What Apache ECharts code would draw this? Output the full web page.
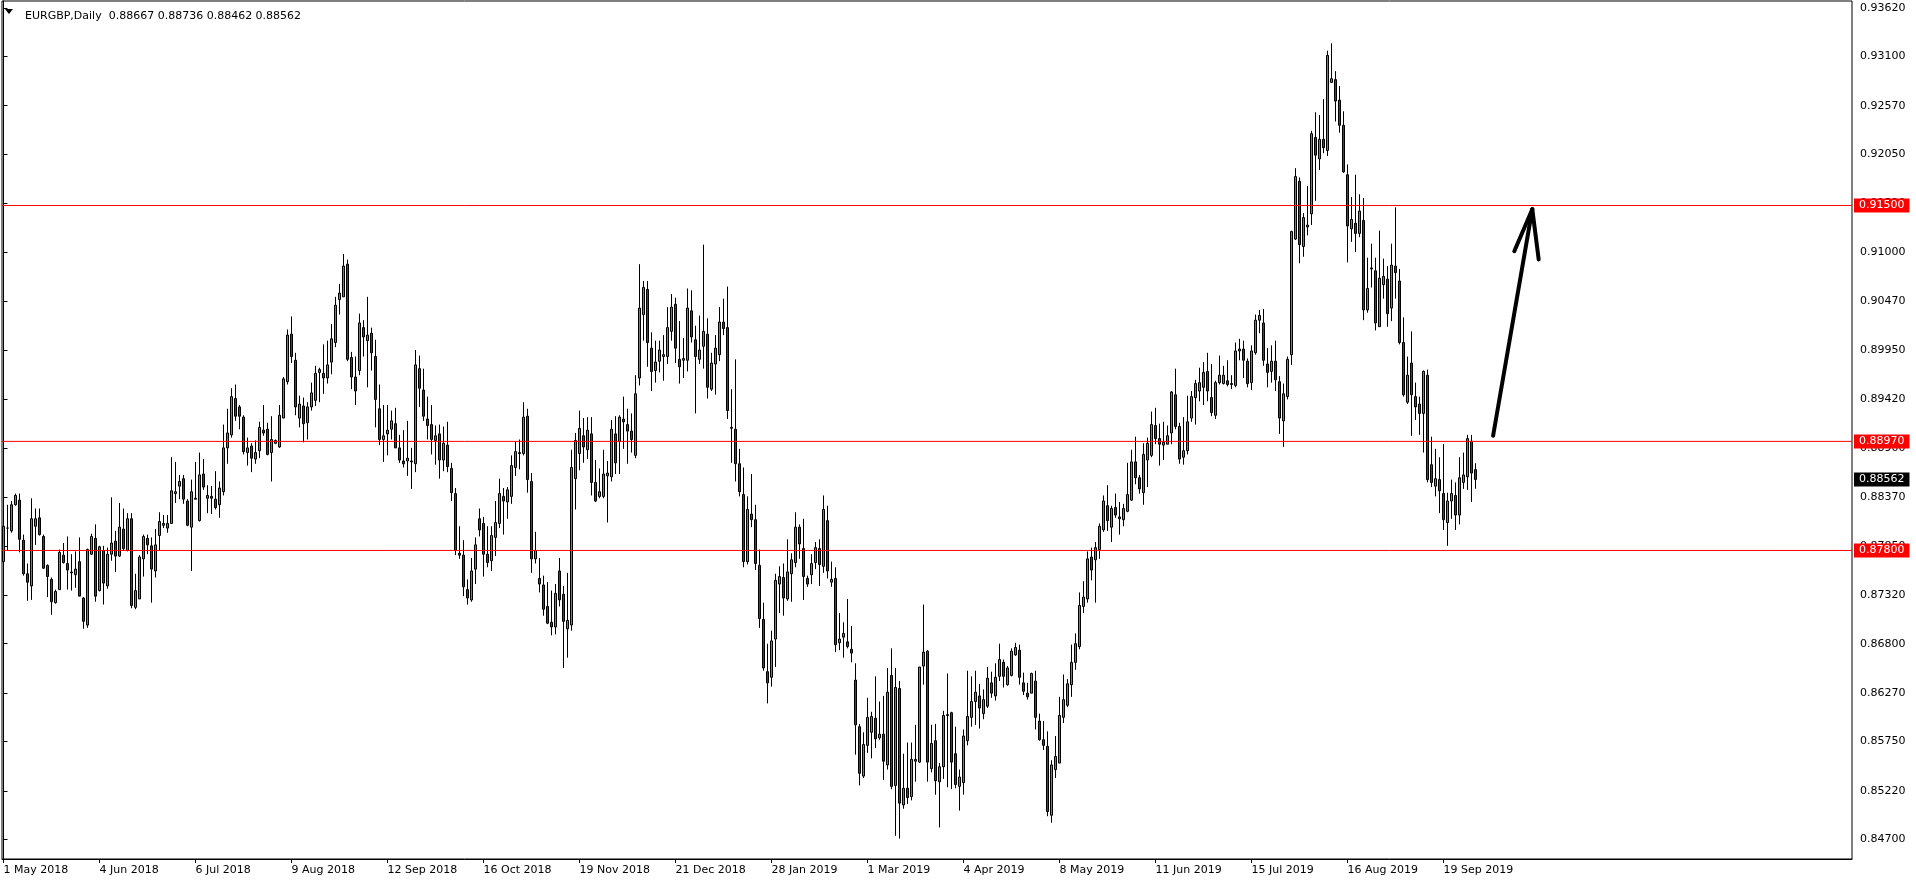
<!DOCTYPE html>
<html><head><meta charset="utf-8">
<script src="https://cdn.jsdelivr.net/npm/echarts@6/dist/echarts.min.js"></script>
<style>html,body{margin:0;padding:0;background:#fff}#c{width:1916px;height:884px}</style>
</head><body><div id="c"></div>
<script>
const symbolName = 'EURGBP,Daily';
const open = [
0.8768,0.8804,0.8801,0.8829,0.8834,0.8791,0.8755,0.8742,0.8806,0.8815,
0.8795,0.8764,0.8749,0.8724,0.8738,0.8775,0.8766,0.8757,0.8754,0.8768,
0.8729,0.8700,0.8776,0.8793,0.8737,0.8780,0.8742,0.8776,0.8790,0.8774,
0.8803,0.8780,0.8814,0.8719,0.8728,0.8771,0.8793,0.8785,0.8758,0.8796,
0.8807,0.8804,0.8809,0.8841,0.8849,0.8857,0.8833,0.8805,0.8836,0.8812,
0.8862,0.8836,0.8838,0.8835,0.8829,0.8843,0.8890,0.8904,0.8943,0.8934,
0.8923,0.8885,0.8892,0.8878,0.8887,0.8909,0.8910,0.8885,0.8895,0.8891,
0.8922,0.8961,0.9012,0.8984,0.8922,0.8935,0.8917,0.8934,0.8941,0.8971,
0.8970,0.8965,0.8982,0.9003,0.9049,0.9052,0.9087,0.8987,0.8966,0.8973,
0.9019,0.9005,0.9013,0.8988,0.8932,0.8899,0.8905,0.8910,0.8916,0.8890,
0.8876,0.8876,0.8876,0.8873,0.8975,0.8952,0.8921,0.8915,0.8898,0.8905,
0.8877,0.8893,0.8868,0.8841,0.8777,0.8775,0.8738,0.8727,0.8760,0.8814,
0.8809,0.8776,0.8769,0.8794,0.8809,0.8838,0.8832,0.8838,0.8869,0.8884,
0.8884,0.8924,0.8854,0.8771,0.8750,0.8743,0.8720,0.8703,0.8698,0.8758,
0.8733,0.8696,0.8700,0.8857,0.8884,0.8903,0.8888,0.8905,0.8853,0.8838,
0.8838,0.8860,0.8859,0.8905,0.8897,0.8921,0.8915,0.8908,0.8882,0.8965,
0.9033,0.9060,0.8997,0.8973,0.8983,0.8988,0.8988,0.9015,0.9044,0.8985,
0.8984,0.8984,0.9037,0.9006,0.8985,0.8999,0.9012,0.8953,0.8980,0.8990,
0.9025,0.9019,0.8912,0.8910,0.8873,0.8840,0.8768,0.8819,0.8813,0.8764,
0.8706,0.8650,0.8644,0.8685,0.8744,0.8751,0.8728,0.8755,0.8767,0.8805,
0.8782,0.8750,0.8754,0.8767,0.8782,0.8763,0.8812,0.8746,0.8750,0.8681,
0.8687,0.8682,0.8674,0.8641,0.8591,0.8538,0.8571,0.8585,0.8600,0.8579,
0.8583,0.8550,0.8646,0.8528,0.8632,0.8507,0.8525,0.8516,0.8554,0.8553,
0.8656,0.8672,0.8546,0.8576,0.8532,0.8548,0.8603,0.8606,0.8562,0.8527,
0.8531,0.8576,0.8601,0.8618,0.8624,0.8605,0.8613,0.8638,0.8624,0.8645,
0.8660,0.8636,0.8646,0.8668,0.8673,0.8638,0.8627,0.8627,0.8640,0.8597,
0.8577,0.8570,0.8496,0.8545,0.8552,0.8601,0.8614,0.8636,0.8660,0.8677,
0.8720,0.8728,0.8773,0.8770,0.8781,0.8802,0.8828,0.8805,0.8826,0.8816,
0.8813,0.8822,0.8834,0.8875,0.8858,0.8842,0.8877,0.8882,0.8914,0.8900,
0.8893,0.8894,0.8906,0.8947,0.8913,0.8880,0.8887,0.8922,0.8944,0.8951,
0.8955,0.8972,0.8944,0.8925,0.8960,0.8959,0.8962,0.8958,0.8957,0.8994,
0.8996,0.8983,0.8960,0.8992,0.9027,0.9024,0.8980,0.8972,0.8983,0.8961,
0.8919,0.8945,0.8990,0.9114,0.9176,0.9106,0.9127,0.9141,0.9223,0.9200,
0.9221,0.9209,0.9282,0.9285,0.9263,0.9236,0.9183,0.9125,0.9131,0.9120,
0.9134,0.9038,0.9083,0.9080,0.9020,0.9065,0.9071,0.9040,0.9085,0.9069,
0.9003,0.8939,0.8981,0.8945,0.8937,0.8927,0.8968,0.8872,0.8849,0.8856,
0.8841,0.8810,0.8833,0.8839,0.8818,0.8853,0.8859,0.8897,0.88667];
const high = [
0.8822,0.8829,0.8833,0.8841,0.8841,0.8797,0.8766,0.8836,0.8825,0.8825,
0.8797,0.8765,0.8751,0.8738,0.8781,0.8788,0.8795,0.8776,0.8779,0.8794,
0.8730,0.8782,0.8798,0.8808,0.8785,0.8785,0.8783,0.8837,0.8801,0.8831,
0.8825,0.8820,0.8820,0.8755,0.8775,0.8797,0.8797,0.8794,0.8803,0.8821,
0.8818,0.8818,0.8880,0.8875,0.8861,0.8861,0.8835,0.8856,0.8875,0.8885,
0.8878,0.8850,0.8849,0.8865,0.8854,0.8915,0.8932,0.8954,0.8958,0.8936,
0.8925,0.8901,0.8895,0.8898,0.8918,0.8936,0.8917,0.8924,0.8899,0.8936,
0.8966,0.9017,0.9031,0.8992,0.8946,0.8944,0.8939,0.8960,0.8978,0.8976,
0.9001,0.9005,0.9023,0.9052,0.9066,0.9098,0.9092,0.8993,0.8988,0.9034,
0.9027,0.9052,0.9019,0.9006,0.8958,0.8936,0.8936,0.8930,0.8933,0.8904,
0.8909,0.8919,0.8890,0.8995,0.8989,0.8975,0.8945,0.8936,0.8914,0.8915,
0.8913,0.8918,0.8874,0.8847,0.8806,0.8791,0.8749,0.8772,0.8794,0.8825,
0.8816,0.8806,0.8806,0.8833,0.8857,0.8847,0.8848,0.8882,0.8897,0.8899,
0.8939,0.8932,0.8863,0.8800,0.8772,0.8753,0.8746,0.8737,0.8744,0.8772,
0.8742,0.8756,0.8888,0.8906,0.8930,0.8922,0.8923,0.8923,0.8877,0.8868,
0.8888,0.8876,0.8920,0.8924,0.8925,0.8945,0.8932,0.8927,0.8968,0.9087,
0.9069,0.9069,0.9014,0.9005,0.9005,0.9011,0.9041,0.9055,0.9051,0.9026,
0.9008,0.9061,0.9059,0.9021,0.9032,0.9108,0.9029,0.8992,0.9011,0.9041,
0.9050,0.9063,0.8953,0.8985,0.8889,0.8869,0.8838,0.8862,0.8829,0.8781,
0.8724,0.8680,0.8694,0.8755,0.8763,0.8766,0.8792,0.8777,0.8821,0.8808,
0.8814,0.8753,0.8776,0.8789,0.8792,0.8839,0.8828,0.8768,0.8762,0.8713,
0.8703,0.8728,0.8699,0.8659,0.8594,0.8585,0.8622,0.8607,0.8645,0.8618,
0.8624,0.8654,0.8675,0.8654,0.8640,0.8562,0.8574,0.8574,0.8593,0.8655,
0.8722,0.8673,0.8593,0.8594,0.8552,0.8608,0.8648,0.8607,0.8591,0.8545,
0.8588,0.8651,0.8645,0.8651,0.8637,0.8631,0.8655,0.8650,0.8659,0.8680,
0.8663,0.8656,0.8675,0.8681,0.8679,0.8649,0.8638,0.8649,0.8651,0.8605,
0.8597,0.8586,0.8555,0.8581,0.8623,0.8647,0.8642,0.8679,0.8691,0.8735,
0.8747,0.8779,0.8783,0.8789,0.8809,0.8839,0.8850,0.8828,0.8841,0.8832,
0.8830,0.8874,0.8888,0.8902,0.8861,0.8895,0.8901,0.8929,0.8933,0.8916,
0.8918,0.8914,0.8951,0.8975,0.8917,0.8923,0.8946,0.8951,0.8963,0.8976,
0.8982,0.8992,0.8980,0.8962,0.8989,0.8978,0.8984,0.8968,0.9003,0.9007,
0.9005,0.8986,0.9000,0.9033,0.9038,0.9039,0.8997,0.9000,0.9005,0.8967,
0.8959,0.8988,0.9123,0.9190,0.9180,0.9142,0.9171,0.9230,0.9250,0.9247,
0.9264,0.9316,0.9324,0.9294,0.9278,0.9251,0.9194,0.9159,0.9183,0.9162,
0.9158,0.9094,0.9109,0.9094,0.9123,0.9093,0.9085,0.9109,0.9148,0.9082,
0.9030,0.8988,0.9015,0.8960,0.8945,0.8973,0.8974,0.8902,0.8889,0.8880,
0.8894,0.8842,0.8856,0.8853,0.8880,0.8885,0.8904,0.8904,0.88736];
const low = [
0.8760,0.8780,0.8799,0.8828,0.8778,0.8753,0.8726,0.8727,0.8786,0.8796,
0.8760,0.8730,0.8711,0.8723,0.8738,0.8766,0.8738,0.8737,0.8740,0.8731,
0.8696,0.8697,0.8775,0.8725,0.8736,0.8722,0.8739,0.8769,0.8757,0.8773,
0.8780,0.8779,0.8718,0.8717,0.8728,0.8752,0.8776,0.8724,0.8751,0.8780,
0.8804,0.8799,0.8809,0.8831,0.8835,0.8830,0.8806,0.8758,0.8835,0.8811,
0.8845,0.8820,0.8819,0.8824,0.8815,0.8839,0.8873,0.8901,0.8919,0.8910,
0.8883,0.8871,0.8864,0.8873,0.8879,0.8903,0.8882,0.8854,0.8894,0.8890,
0.8922,0.8958,0.8981,0.8925,0.8912,0.8896,0.8899,0.8930,0.8935,0.8939,
0.8948,0.8959,0.8969,0.8998,0.9033,0.9052,0.8983,0.8953,0.8936,0.8968,
0.8988,0.8955,0.8973,0.8912,0.8893,0.8875,0.8882,0.8899,0.8890,0.8874,
0.8869,0.8860,0.8846,0.8864,0.8934,0.8919,0.8899,0.8883,0.8872,0.8857,
0.8865,0.8864,0.8833,0.8775,0.8771,0.8731,0.8722,0.8725,0.8744,0.8795,
0.8752,0.8762,0.8758,0.8774,0.8804,0.8797,0.8814,0.8830,0.8860,0.8867,
0.8882,0.8842,0.8756,0.8766,0.8735,0.8710,0.8701,0.8689,0.8690,0.8720,
0.8654,0.8665,0.8694,0.8824,0.8866,0.8874,0.8878,0.8839,0.8832,0.8836,
0.8836,0.8810,0.8854,0.8862,0.8862,0.8889,0.8873,0.8885,0.8879,0.8957,
0.9005,0.8977,0.8951,0.8960,0.8971,0.8962,0.8980,0.9005,0.8981,0.8959,
0.8965,0.8972,0.9003,0.8927,0.8980,0.8975,0.8943,0.8951,0.8947,0.8983,
0.9011,0.8921,0.8874,0.8854,0.8838,0.8762,0.8765,0.8805,0.8759,0.8697,
0.8651,0.8616,0.8634,0.8655,0.8713,0.8710,0.8726,0.8725,0.8762,0.8771,
0.8727,0.8741,0.8744,0.8760,0.8742,0.8756,0.8750,0.8741,0.8671,0.8673,
0.8665,0.8675,0.8660,0.8561,0.8528,0.8536,0.8563,0.8557,0.8568,0.8577,
0.8534,0.8545,0.8524,0.8474,0.8471,0.8503,0.8508,0.8512,0.8532,0.8552,
0.8636,0.8532,0.8542,0.8518,0.8483,0.8535,0.8526,0.8524,0.8525,0.8501,
0.8518,0.8571,0.8591,0.8593,0.8589,0.8599,0.8611,0.8622,0.8619,0.8640,
0.8633,0.8635,0.8645,0.8667,0.8636,0.8625,0.8620,0.8627,0.8588,0.8576,
0.8566,0.8495,0.8488,0.8536,0.8552,0.8595,0.8612,0.8623,0.8652,0.8674,
0.8713,0.8724,0.8748,0.8724,0.8771,0.8800,0.8801,0.8789,0.8815,0.8797,
0.8806,0.8821,0.8833,0.8851,0.8841,0.8829,0.8848,0.8880,0.8894,0.8871,
0.8877,0.8894,0.8894,0.8910,0.8873,0.8872,0.8883,0.8918,0.8915,0.8940,
0.8936,0.8940,0.8924,0.8921,0.8958,0.8958,0.8956,0.8953,0.8955,0.8984,
0.8965,0.8955,0.8952,0.8990,0.9013,0.8978,0.8955,0.8960,0.8951,0.8905,
0.8891,0.8942,0.8979,0.9113,0.9088,0.9095,0.9118,0.9129,0.9155,0.9188,
0.9206,0.9203,0.9282,0.9240,0.9228,0.9185,0.9089,0.9111,0.9100,0.9116,
0.9027,0.9035,0.9062,0.9016,0.9020,0.9050,0.9020,0.9026,0.9050,0.9001,
0.8945,0.8937,0.8903,0.8920,0.8904,0.8885,0.8853,0.8848,0.8838,0.8820,
0.8802,0.8785,0.8814,0.8802,0.8808,0.8846,0.8845,0.8832,0.88462];
const close = [
0.8806,0.8804,0.8829,0.8839,0.8792,0.8755,0.8746,0.8814,0.8814,0.8797,
0.8761,0.8752,0.8725,0.8736,0.8778,0.8767,0.8759,0.8756,0.8760,0.8731,
0.8704,0.8781,0.8795,0.8731,0.8784,0.8745,0.8776,0.8788,0.8774,0.8805,
0.8782,0.8814,0.8721,0.8737,0.8773,0.8795,0.8786,0.8760,0.8786,0.8811,
0.8809,0.8809,0.8844,0.8843,0.8854,0.8835,0.8807,0.8843,0.8835,0.8861,
0.8848,0.8839,0.8836,0.8826,0.8847,0.8890,0.8906,0.8945,0.8924,0.8924,
0.8886,0.8890,0.8879,0.8885,0.8912,0.8906,0.8883,0.8899,0.8898,0.8925,
0.8964,0.9011,0.8988,0.8934,0.8937,0.8916,0.8934,0.8949,0.8970,0.8974,
0.8965,0.8979,0.9007,0.9043,0.9056,0.9085,0.8985,0.8966,0.8951,0.9024,
0.9009,0.9011,0.8992,0.8942,0.8899,0.8903,0.8909,0.8919,0.8890,0.8877,
0.8873,0.8879,0.8875,0.8979,0.8954,0.8924,0.8914,0.8899,0.8903,0.8877,
0.8895,0.8870,0.8842,0.8780,0.8775,0.8741,0.8729,0.8758,0.8786,0.8802,
0.8776,0.8767,0.8796,0.8810,0.8841,0.8833,0.8845,0.8871,0.8886,0.8885,
0.8923,0.8856,0.8771,0.8780,0.8744,0.8717,0.8702,0.8698,0.8734,0.8727,
0.8704,0.8705,0.8869,0.8898,0.8911,0.8891,0.8909,0.8853,0.8833,0.8843,
0.8862,0.8863,0.8910,0.8874,0.8923,0.8918,0.8908,0.8899,0.8948,0.9040,
0.9062,0.9003,0.8972,0.8982,0.8995,0.8990,0.9019,0.9041,0.8997,0.8977,
0.8986,0.9040,0.9009,0.8988,0.8995,0.9015,0.8955,0.8981,0.8997,0.9025,
0.9018,0.8930,0.8911,0.8873,0.8843,0.8768,0.8824,0.8813,0.8766,0.8707,
0.8654,0.8638,0.8683,0.8748,0.8752,0.8729,0.8757,0.8770,0.8805,0.8787,
0.8752,0.8744,0.8766,0.8783,0.8765,0.8824,0.8758,0.8749,0.8679,0.8685,
0.8691,0.8677,0.8670,0.8593,0.8541,0.8572,0.8601,0.8602,0.8578,0.8583,
0.8554,0.8628,0.8527,0.8633,0.8509,0.8525,0.8515,0.8556,0.8556,0.8655,
0.8671,0.8553,0.8573,0.8533,0.8548,0.8603,0.8604,0.8553,0.8529,0.8537,
0.8581,0.8602,0.8618,0.8628,0.8611,0.8620,0.8643,0.8627,0.8644,0.8663,
0.8645,0.8654,0.8672,0.8676,0.8644,0.8629,0.8623,0.8648,0.8601,0.8577,
0.8571,0.8500,0.8550,0.8559,0.8603,0.8620,0.8637,0.8660,0.8680,0.8721,
0.8730,0.8771,0.8759,0.8783,0.8806,0.8833,0.8812,0.8825,0.8818,0.8814,
0.8825,0.8840,0.8875,0.8858,0.8846,0.8883,0.8895,0.8915,0.8900,0.8894,
0.8896,0.8903,0.8950,0.8913,0.8878,0.8887,0.8918,0.8945,0.8959,0.8960,
0.8971,0.8951,0.8928,0.8960,0.8968,0.8968,0.8958,0.8959,0.8994,0.8996,
0.8984,0.8959,0.8994,0.9027,0.9032,0.8984,0.8971,0.8983,0.8963,0.8922,
0.8948,0.8985,0.9122,0.9181,0.9108,0.9137,0.9129,0.9227,0.9204,0.9221,
0.9212,0.9311,0.9286,0.9262,0.9236,0.9186,0.9128,0.9135,0.9120,0.9144,
0.9038,0.9061,0.9082,0.9024,0.9072,0.9074,0.9034,0.9086,0.9078,0.9003,
0.8947,0.8968,0.8947,0.8934,0.8927,0.8972,0.8856,0.8853,0.8857,0.8844,
0.8813,0.8833,0.8841,0.8818,0.8858,0.8861,0.8900,0.8863,0.88562];

const dateLabels = ['1 May 2018','4 Jun 2018','6 Jul 2018','9 Aug 2018','12 Sep 2018','16 Oct 2018','19 Nov 2018','21 Dec 2018','28 Jan 2019','1 Mar 2019','4 Apr 2019','8 May 2019','11 Jun 2019','15 Jul 2019','16 Aug 2019','19 Sep 2019'];
const dateLabelBars = [0,24,48,72,96,120,144,168,192,216,240,264,288,312,336,360];
const priceTicks = [0.93620,0.93100,0.92570,0.92050,0.91520,0.91000,0.90470,0.89950,0.89420,0.88900,0.88370,0.87850,0.87320,0.86800,0.86270,0.85750,0.85220,0.84700];
const levelLines = [0.91500, 0.88970, 0.87800];
const lastPrice = 0.88562;
// hand-drawn arrow: [bar, price] points
const arrowShaft = [[372.4, 0.8903], [382.2, 0.9146]];
const arrowWingLeft = [[377.7, 0.9101], [382.2, 0.9146]];
const arrowWingRight = [[383.8, 0.9092], [382.2, 0.9146]];

const FONT = "'DejaVu Sans', sans-serif";
const X_MIN = -0.375, X_MAX = 462.125;
const Y_MIN = 0.84491, Y_MAX = 0.93693;
const chart = echarts.init(document.getElementById('c'), null, {renderer: 'canvas'});

const candleData = open.map((o, i) => {
  const c = close[i];
  return [i, o, c, Math.min(low[i], o, c), Math.max(high[i], o, c)];
});

const endLabel = (bg, txt) => ({
  show: true, formatter: txt, distance: 2,
  color: '#fff', backgroundColor: bg, padding: [1, 5, 1, 5],
  fontSize: 11, fontFamily: FONT, lineHeight: 12, valueAnimation: false
});

const series = [{
  type: 'candlestick',
  data: candleData,
  barWidth: 2,
  itemStyle: {color: '#3da83d', color0: '#e00000', borderColor: '#000', borderColor0: '#000', borderWidth: 1},
  z: 2
}];
levelLines.forEach(v => {
  series.push({
    type: 'line', data: [[X_MIN, v], [X_MAX, v]], symbol: 'none', silent: true, clip: false,
    lineStyle: {color: '#ff0000', width: 1},
    endLabel: endLabel('#ff0000', v.toFixed(5)), z: 4
  });
});
series.push({
  type: 'line', data: [[X_MIN, lastPrice], [X_MAX, lastPrice]], symbol: 'none', silent: true, clip: false,
  lineStyle: {color: 'rgba(0,0,0,0)', width: 1},
  endLabel: endLabel('#000000', lastPrice.toFixed(5)), z: 4
});
[arrowShaft, arrowWingLeft, arrowWingRight].forEach(seg => {
  series.push({
    type: 'line', data: seg, symbol: 'none', silent: true,
    lineStyle: {color: '#000', width: 4, cap: 'round', join: 'round'}, z: 5
  });
});

const last = open.length - 1;
const titleText = symbolName + '  ' + [open[last], high[last], low[last], close[last]].map(v => v.toFixed(5)).join(' ');

chart.setOption({
  animation: false,
  backgroundColor: '#fff',
  title: {
    text: titleText, left: 20, top: 6,
    textStyle: {fontSize: 11, fontWeight: 'normal', color: '#000', fontFamily: FONT}
  },
  graphic: [{
    type: 'polygon', shape: {points: [[5, 9], [13, 9], [9, 14]]}, style: {fill: '#000'}
  }],
  grid: {left: 2, right: 64, top: 1, bottom: 25, show: true, borderColor: '#000', borderWidth: 1, backgroundColor: '#fff'},
  xAxis: {
    type: 'value', min: X_MIN, max: X_MAX,
    splitLine: {show: false},
    axisLine: {show: true, onZero: false, lineStyle: {color: '#000', width: 1}},
    axisTick: {show: true, length: 4, customValues: dateLabelBars, lineStyle: {color: '#000'}},
    axisLabel: {
      customValues: dateLabelBars,
      formatter: v => dateLabels[dateLabelBars.indexOf(Math.round(v))] || '',
      align: 'left', margin: 6, color: '#000', fontSize: 11, fontFamily: FONT
    }
  },
  yAxis: {
    type: 'value', position: 'right', min: Y_MIN, max: Y_MAX, scale: true,
    splitLine: {show: false},
    axisLine: {show: true, lineStyle: {color: '#000', width: 1}},
    axisTick: {show: true, length: 4, customValues: priceTicks, lineStyle: {color: '#000'}},
    axisLabel: {
      customValues: priceTicks,
      formatter: v => v.toFixed(5),
      margin: 8, color: '#000', fontSize: 11, fontFamily: FONT
    }
  },
  series: series
});
</script>
</body></html>
